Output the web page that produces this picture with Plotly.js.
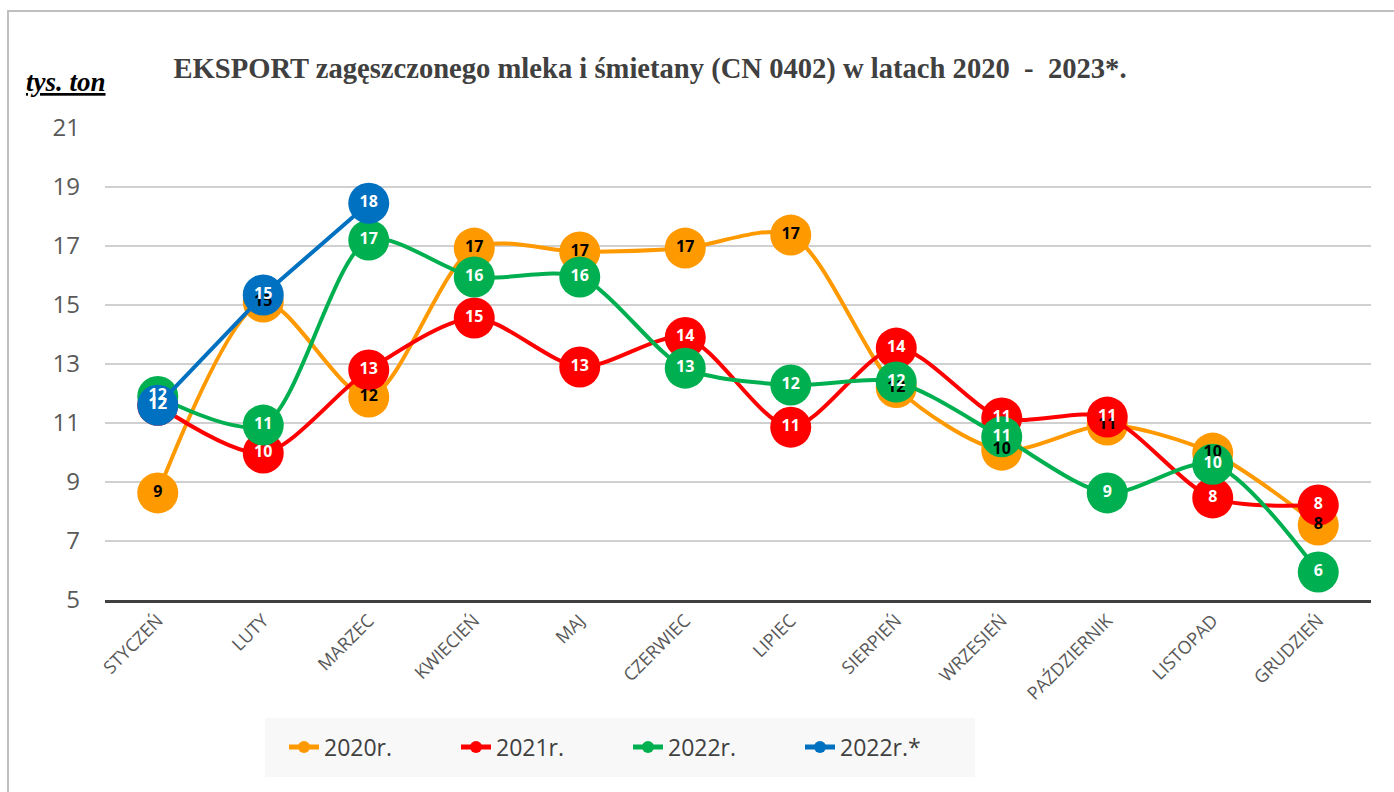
<!DOCTYPE html>
<html>
<head>
<meta charset="utf-8">
<script src="https://cdn.plot.ly/plotly-3.0.1.min.js"></script>
<style>html,body{margin:0;padding:0;background:#fff;}#chart{width:1394px;height:792px;}</style>
</head>
<body>
<div id="chart"></div>
<script>
const months = ['STYCZEŃ','LUTY','MARZEC','KWIECIEŃ','MAJ','CZERWIEC','LIPIEC','SIERPIEŃ','WRZESIEŃ','PAŹDZIERNIK','LISTOPAD','GRUDZIEŃ'];
const y2020 = [8.63, 15.1, 11.88, 16.93, 16.8, 16.93, 17.37, 12.2, 10.08, 10.93, 9.98, 7.54];
const y2021 = [11.6, 9.98, 12.8, 14.56, 12.9, 13.9, 10.86, 13.54, 11.17, 11.2, 8.46, 8.22];
const y2022 = [11.9, 10.93, 17.2, 15.95, 15.95, 12.86, 12.29, 12.39, 10.53, 8.63, 9.6, 5.95];
const y2023 = [11.6, 15.34, 18.45];
const months2023 = months.slice(0, 3);
const seriesNames = ['2020r.', '2021r.', '2022r.', '2022r.*'];

const series = [
  {name: seriesNames[0], x: months, y: y2020, color: '#FF9900', text: '#000000', shape: 'spline'},
  {name: seriesNames[1], x: months, y: y2021, color: '#FF0000', text: '#FFFFFF', shape: 'spline'},
  {name: seriesNames[2], x: months, y: y2022, color: '#00B050', text: '#FFFFFF', shape: 'spline'},
  {name: seriesNames[3], x: months2023, y: y2023, color: '#0070C0', text: '#FFFFFF', shape: 'linear'}
];

const traces = [];
series.forEach(s => {
  traces.push({
    type: 'scatter', mode: 'lines+markers', name: s.name, x: s.x, y: s.y,
    line: {color: s.color, width: 4, shape: s.shape, smoothing: 0.8},
    marker: {color: s.color, size: 41, line: {width: 0}},
    hoverinfo: 'skip'
  });
});
series.forEach(s => {
  traces.push({
    type: 'scatter', mode: 'text', showlegend: false, x: s.x, y: s.y,
    texttemplate: '%{y:.0f}', textposition: 'middle center',
    textfont: {family: 'Open Sans, Lato, sans-serif', size: 16, color: s.text, weight: 'bold'},
    hoverinfo: 'skip'
  });
});

const px = v => (v - 105) / 1266;
const py = v => (600 - v) / 472;

const layout = {
  width: 1394, height: 792,
  paper_bgcolor: '#ffffff', plot_bgcolor: '#ffffff',
  margin: {l: 105, r: 23, t: 128, b: 192},
  title: {
    text: '<b>EKSPORT zagęszczonego mleka i śmietany (CN 0402) w latach 2020 &nbsp;- &nbsp;2023*.</b>',
    font: {family: 'Liberation Serif, Times New Roman, serif', size: 28.6, color: '#404040'},
    x: 650 / 1394, xanchor: 'center', xref: 'container',
    y: 1 - 68 / 792, yanchor: 'middle', yref: 'container'
  },
  xaxis: {
    type: 'category', categoryorder: 'array', categoryarray: months,
    range: [-0.5, 11.5],
    showgrid: false, zeroline: false,
    showline: true, linecolor: '#404040', linewidth: 3,
    ticks: '', tickangle: -45,
    tickfont: {family: 'Open Sans, Lato, sans-serif', size: 18, color: '#595959'}
  },
  yaxis: {
    range: [5, 21], tickmode: 'array', tickvals: [5, 7, 9, 11, 13, 15, 17, 19, 21],
    showgrid: true, gridcolor: '#d0d0d0', gridwidth: 2,
    zeroline: false, showline: false, ticks: '',
    ticklabelstandoff: 24,
    tickfont: {family: 'Open Sans, Lato, sans-serif', size: 24, color: '#595959'}
  },
  showlegend: true,
  legend: {
    orientation: 'h', x: px(628), xanchor: 'center', y: py(747), yanchor: 'middle',
    bgcolor: 'rgba(0,0,0,0)', borderwidth: 0,
    entrywidth: 127, entrywidthmode: 'pixels',
    itemsizing: 'constant',
    font: {family: 'Open Sans, Lato, sans-serif', size: 23, color: '#404040'}
  },
  annotations: [{
    text: '<b><i><u>tys. ton</u></i></b>',
    xref: 'paper', yref: 'paper',
    x: px(66), y: py(82),
    xanchor: 'center', yanchor: 'middle', showarrow: false,
    font: {family: 'Liberation Serif, Times New Roman, serif', size: 27, color: '#000000'}
  }],
  shapes: [{
    type: 'rect', xref: 'paper', yref: 'paper',
    x0: px(8), x1: 1.1, y0: -0.6, y1: py(11),
    line: {color: '#bfbfbf', width: 2}, fillcolor: 'rgba(0,0,0,0)', layer: 'below'
  }, {
    type: 'rect', xref: 'paper', yref: 'paper',
    x0: px(265), x1: px(975), y0: py(777), y1: py(718),
    line: {width: 0}, fillcolor: '#f8f8f8', layer: 'below'
  }]
};

Plotly.newPlot('chart', traces, layout, {displayModeBar: false, staticPlot: true});
</script>
</body>
</html>
